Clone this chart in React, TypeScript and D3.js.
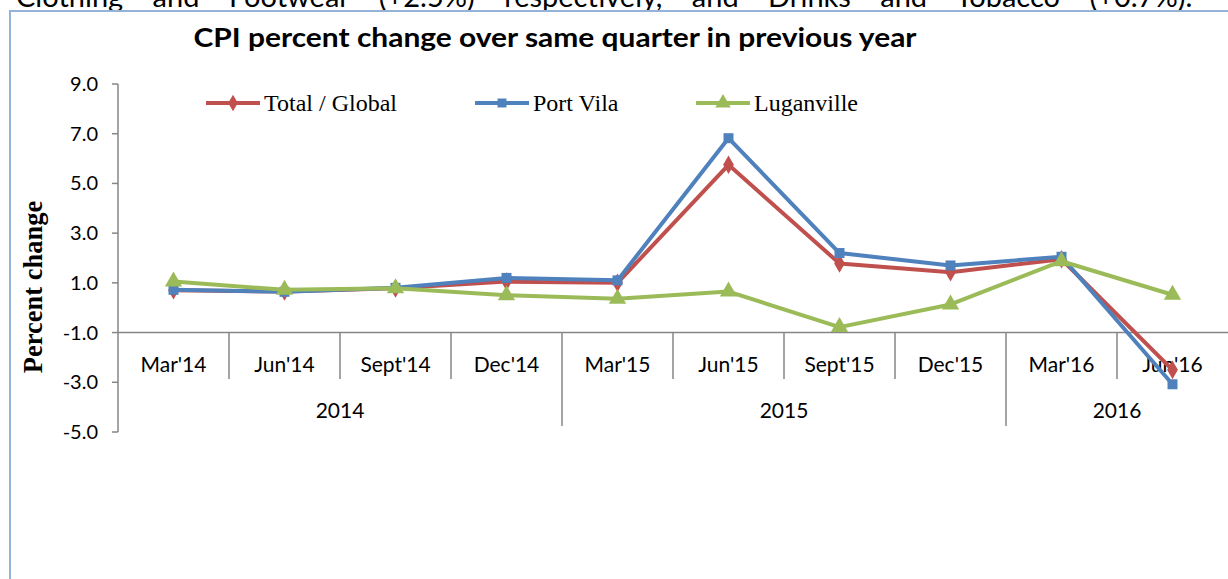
import React from 'react';
import * as d3 from 'd3';

const quarters = ["Mar'14", "Jun'14", "Sept'14", "Dec'14", "Mar'15", "Jun'15", "Sept'15", "Dec'15", "Mar'16", "Jun'16"];
const yearLabels = ["2014", "2015", "2016"];
const yearSpans = [4, 4, 2];
const totalGlobal = [0.7, 0.65, 0.78, 1.05, 1.0, 5.75, 1.78, 1.43, 1.95, -2.5];
const portVila = [0.72, 0.64, 0.8, 1.2, 1.1, 6.82, 2.2, 1.7, 2.05, -3.08];
const luganville = [1.05, 0.72, 0.78, 0.5, 0.36, 0.65, -0.78, 0.13, 1.87, 0.52];
const yTicks = [9, 7, 5, 3, 1, -1, -3, -5];
const seriesNames = ["Total / Global", "Port Vila", "Luganville"];

const W = 1228, H = 579;
const left = 118, right = 1228, top = 84, bottom = 432;

export default function App() {
  const y = d3.scaleLinear().domain([-5, 9]).range([bottom, top]);
  const x = d3.scaleBand<string>().domain(quarters).range([left, right]);
  const cx = (q: string) => (x(q) as number) + x.bandwidth() / 2;
  const axisY = y(-1);
  const fmt = (v: number) => d3.format('.1f')(v).replace('\u2212', '-');
  const line = d3.line<number>().x((_, i) => cx(quarters[i])).y(v => y(v));

  const series = [
    { name: seriesNames[0], data: totalGlobal, color: '#c0504d', sym: d3.symbolDiamond, size: 100 },
    { name: seriesNames[1], data: portVila, color: '#4f81bd', sym: d3.symbolSquare, size: 100 },
    { name: seriesNames[2], data: luganville, color: '#9bbb59', sym: d3.symbolTriangle, size: 130 },
  ];
  const legendX = [206, 475, 696];
  const legendY = 103;
  const axisColor = '#868686';
  const sans = 'Lato, "Open Sans", sans-serif';
  const serif = '"Liberation Serif", "Times New Roman", serif';

  let acc = 0;
  const yearBlocks = yearLabels.map((label, i) => {
    const start = acc; acc += yearSpans[i];
    const x0 = x(quarters[start]) as number;
    const x1 = start + yearSpans[i] < quarters.length ? (x(quarters[start + yearSpans[i]]) as number) : right;
    return { label, x0, x1, endIdx: start + yearSpans[i] };
  });
  const yearBoundaryIdx = new Set(yearBlocks.map(b => b.endIdx));

  return (
    <svg width={W} height={H} style={{ position: 'fixed', left: 0, top: 0, background: '#fff' }}>
      <rect x={0} y={0} width={W} height={H} fill="#fff" />
      <text x={16} y={7} fontFamily={sans} fontSize={29} fill="#000" wordSpacing={22}>
        Clothing and Footwear (+2.5%) respectively, and Drinks and Tobacco (+0.7%).
      </text>
      <line x1={10} y1={11} x2={W} y2={11} stroke="#95b3d7" strokeWidth={2} />
      <line x1={10} y1={10} x2={10} y2={H} stroke="#95b3d7" strokeWidth={2} />

      <text x={555} y={47} textAnchor="middle" fontFamily={sans} fontWeight={700} fontSize={27} textLength={723} lengthAdjust="spacingAndGlyphs">
        CPI percent change over same quarter in previous year
      </text>

      <line x1={left} y1={top} x2={left} y2={bottom} stroke={axisColor} strokeWidth={1.5} />
      {yTicks.map(t => (
        <g key={t}>
          <line x1={left - 6} x2={left} y1={y(t)} y2={y(t)} stroke={axisColor} strokeWidth={1.5} />
          <text x={98} y={y(t)} dy="0.35em" textAnchor="end" fontFamily={sans} fontSize={20}>{fmt(t)}</text>
        </g>
      ))}
      <text transform={`translate(42,287) rotate(-90)`} textAnchor="middle" fontFamily={serif} fontWeight={700} fontSize={26.5}>Percent change</text>

      <line x1={left} y1={axisY} x2={right} y2={axisY} stroke={axisColor} strokeWidth={1.5} />
      {quarters.map((q, i) => i > 0 ? (
        <line key={q} x1={x(q) as number} x2={x(q) as number} y1={axisY} y2={yearBoundaryIdx.has(i) ? 426 : 379} stroke={axisColor} strokeWidth={1.5} />
      ) : null)}
      {quarters.map(q => (
        <text key={q} x={cx(q)} y={372} textAnchor="middle" fontFamily={sans} fontSize={21}>{q}</text>
      ))}
      {yearBlocks.map(b => (
        <text key={b.label} x={(b.x0 + b.x1) / 2} y={418} textAnchor="middle" fontFamily={sans} fontSize={21}>{b.label}</text>
      ))}

      {series.map(s => (
        <g key={s.name}>
          <path d={line(s.data) || ''} fill="none" stroke={s.color} strokeWidth={4} strokeLinejoin="round" />
          {s.data.map((v, i) => (
            <path key={i} d={d3.symbol().type(s.sym).size(s.size)() || ''} transform={`translate(${cx(quarters[i])},${y(v)})`} fill={s.color} />
          ))}
        </g>
      ))}

      {series.map((s, i) => (
        <g key={s.name}>
          <line x1={legendX[i]} x2={legendX[i] + 54} y1={legendY} y2={legendY} stroke={s.color} strokeWidth={4} />
          <path d={d3.symbol().type(s.sym).size(s.size * 0.8)() || ''} transform={`translate(${legendX[i] + 27},${legendY})`} fill={s.color} />
          <text x={legendX[i] + 58} y={legendY} dy="0.33em" fontFamily={serif} fontSize={24}>{s.name}</text>
        </g>
      ))}
    </svg>
  );
}
